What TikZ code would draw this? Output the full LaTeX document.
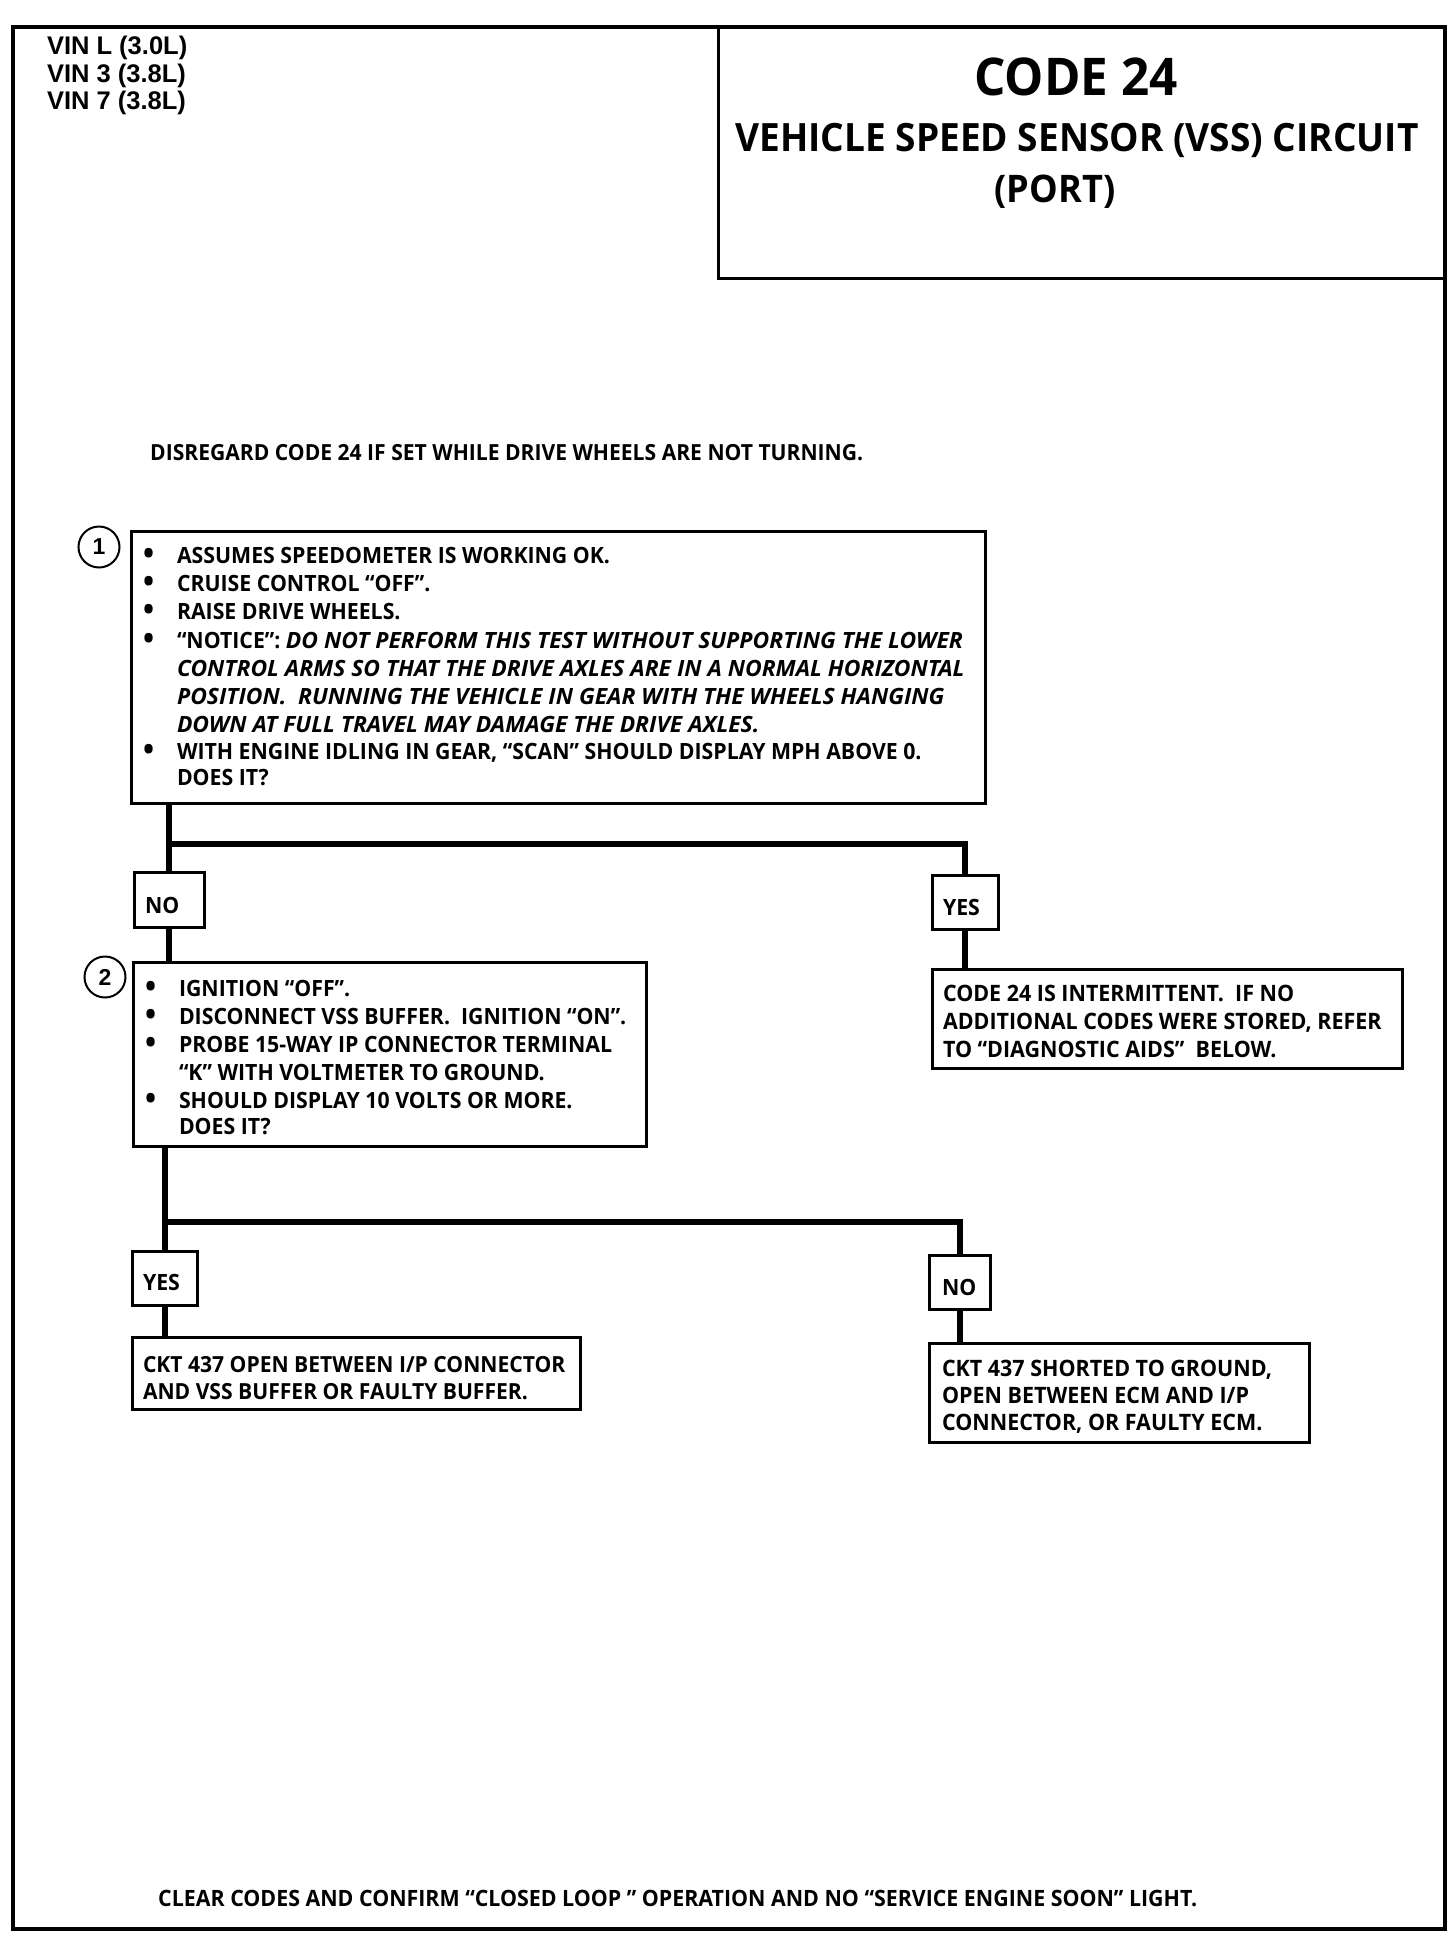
\documentclass[tikz,border=0pt]{standalone}
\usepackage{fontspec}
\setmainfont{Open Sans}[BoldFeatures={FakeStretch=0.95}, BoldItalicFeatures={FakeStretch=1.02}]
\newfontfamily\arialf{Liberation Sans}
\newcommand\fsz[1]{\fontsize{#1}{#1}\selectfont}
\newcommand\bul{\makebox[34pt][l]{\fsz{31}\raisebox{-1pt}{•}}}
\tikzset{
  frame/.style={draw, line width=4.5pt, inner sep=0pt, outer sep=0pt, anchor=north west},
  box/.style={draw, line width=3pt, inner sep=0pt, outer sep=0pt, anchor=north west},
  lab/.style={draw, line width=3pt, inner sep=0pt, outer sep=0pt, anchor=north west},
  conn/.style={line width=6pt},
  num/.style={circle, draw, line width=2pt, inner sep=0pt, minimum size=41pt, font=\arialf\bfseries\fsz{23}},
  t16/.style={anchor=base west, inner sep=0pt, outer sep=0pt, font=\bfseries\fsz{22.4}},
  t16i/.style={anchor=base west, inner sep=0pt, outer sep=0pt, font=\bfseries\itshape\fsz{22.4}},
  t15/.style={anchor=base west, inner sep=0pt, outer sep=0pt, font=\bfseries\fsz{22.6}},
  t15s/.style={anchor=base west, inner sep=0pt, outer sep=0pt, font=\bfseries\fsz{22.2}},
  vin/.style={anchor=base west, inner sep=0pt, outer sep=0pt, font=\arialf\bfseries\fsz{25.5}},
}
\begin{document}
\begin{tikzpicture}[x=1pt, y=-1pt]
\useasboundingbox (0,0) rectangle (1456,1938);
% frame and title box
\node[frame, minimum width=1432pt, minimum height=1902pt] (frame) at (13,27) {};
\node[box, minimum width=727pt, minimum height=251pt] (title) at (718,27) {};
\node[vin] (vin1) at (47,54) {VIN L (3.0L)};
\node[vin] (vin2) at (47,82) {VIN 3 (3.8L)};
\node[vin] (vin3) at (47,109) {VIN 7 (3.8L)};
\node[anchor=base, inner sep=0pt, font=\bfseries\fsz{52}] (code) at (1076,95) {CODE 24};
\node[anchor=base, inner sep=0pt, font=\bfseries\fsz{39}] (vss) at (1077,151) {VEHICLE SPEED SENSOR (VSS) CIRCUIT};
\node[anchor=base, inner sep=0pt, font=\bfseries\fsz{38}] (port) at (1055,202) {(PORT)};
\node[anchor=base west, inner sep=0pt, font=\bfseries\fsz{22.2}] (disr) at (150,460) {DISREGARD CODE 24 IF SET WHILE DRIVE WHEELS ARE NOT TURNING.};
% box 1
\node[box, minimum width=854pt, minimum height=272pt] (b1) at (131,531) {};
\node[num] (c1) at (99,547) {1};
\node[t16] (b1l1) at (143,563) {\bul ASSUMES SPEEDOMETER IS WORKING OK.};
\node[t16] (b1l2) at (143,591) {\bul CRUISE CONTROL “OFF”.};
\node[t16] (b1l3) at (143,619.5) {\bul RAISE DRIVE WHEELS.};
\node[t16] (b1l4) at (143,648.5) {\bul “NOTICE”: \itshape DO NOT PERFORM THIS TEST WITHOUT SUPPORTING THE LOWER};
\node[t16i] (b1l5) at (177,676.5) {CONTROL ARMS SO THAT THE DRIVE AXLES ARE IN A NORMAL HORIZONTAL};
\node[t16i] (b1l6) at (177,704.5) {POSITION.~~RUNNING THE VEHICLE IN GEAR WITH THE WHEELS HANGING};
\node[t16i] (b1l7) at (177,732) {DOWN AT FULL TRAVEL MAY DAMAGE THE DRIVE AXLES.};
\node[t16] (b1l8) at (143,759) {\bul WITH ENGINE IDLING IN GEAR, “SCAN” SHOULD DISPLAY MPH ABOVE 0.};
\node[t16] (b1l9) at (177,785.5) {DOES IT?};
% first split
\node[lab, minimum width=70pt, minimum height=55pt] (no1) at (134,872) {};
\node[t16] (no1t) at (145,913) {NO};
\node[lab, minimum width=66pt, minimum height=54pt] (yes1) at (932,875) {};
\node[t16] (yes1t) at (943,915) {YES};
\coordinate (s1) at (168,844);
\draw[conn] (b1.south -| no1.north) -- (no1.north);
\draw[conn] (s1 -| no1.north) -- (s1 -| yes1.north) -- (yes1.north);
% box 2
\node[box, minimum width=513pt, minimum height=184pt] (b2) at (133,962) {};
\draw[conn] (no1.south) -- (no1.south |- b2.north);
\node[num] (c2) at (105,977) {2};
\node[t16] (b2l1) at (145,996) {\bul IGNITION “OFF”.};
\node[t16] (b2l2) at (145,1024) {\bul DISCONNECT VSS BUFFER.~~IGNITION “ON”.};
\node[t16] (b2l3) at (145,1052) {\bul PROBE 15-WAY IP CONNECTOR TERMINAL};
\node[t16] (b2l4) at (179,1080) {“K” WITH VOLTMETER TO GROUND.};
\node[t16] (b2l5) at (145,1108) {\bul SHOULD DISPLAY 10 VOLTS OR MORE.};
\node[t16] (b2l6) at (179,1134) {DOES IT?};
% result 1
\node[box, minimum width=470pt, minimum height=99pt] (r1) at (932,969) {};
\draw[conn] (yes1.south) -- (yes1.south |- r1.north);
\node[t15] (r1l1) at (943,1001) {CODE 24 IS INTERMITTENT.~~IF NO};
\node[t15] (r1l2) at (943,1029) {ADDITIONAL CODES WERE STORED, REFER};
\node[t15] (r1l3) at (943,1057) {TO “DIAGNOSTIC AIDS”~~BELOW.};
% second split
\node[lab, minimum width=65pt, minimum height=54pt] (yes2) at (132,1251) {};
\node[t16] (yes2t) at (143,1290) {YES};
\node[lab, minimum width=61pt, minimum height=54pt] (no2) at (929,1255) {};
\node[t16] (no2t) at (942,1295) {NO};
\coordinate (s2) at (167,1222);
\draw[conn] (b2.south -| yes2.north) -- (yes2.north);
\draw[conn] (s2 -| yes2.north) -- (s2 -| no2.north) -- (no2.north);
% results 2 and 3
\node[box, minimum width=448pt, minimum height=72pt] (r2) at (132,1337) {};
\draw[conn] (yes2.south) -- (yes2.south |- r2.north);
\node[t15s] (r2l1) at (143,1372) {CKT 437 OPEN BETWEEN I/P CONNECTOR};
\node[t15s] (r2l2) at (143,1399) {AND VSS BUFFER OR FAULTY BUFFER.};
\node[box, minimum width=380pt, minimum height=99pt] (r3) at (929,1343) {};
\draw[conn] (no2.south) -- (no2.south |- r3.north);
\node[t15] (r3l1) at (942,1376) {CKT 437 SHORTED TO GROUND,};
\node[t15] (r3l2) at (942,1403) {OPEN BETWEEN ECM AND I/P};
\node[t15] (r3l3) at (942,1430) {CONNECTOR, OR FAULTY ECM.};
% bottom
\node[anchor=base west, inner sep=0pt, font=\bfseries\fsz{22.5}] (clear) at (158,1906) {CLEAR CODES AND CONFIRM “CLOSED LOOP ” OPERATION AND NO “SERVICE ENGINE SOON” LIGHT.};
\end{tikzpicture}
\end{document}
